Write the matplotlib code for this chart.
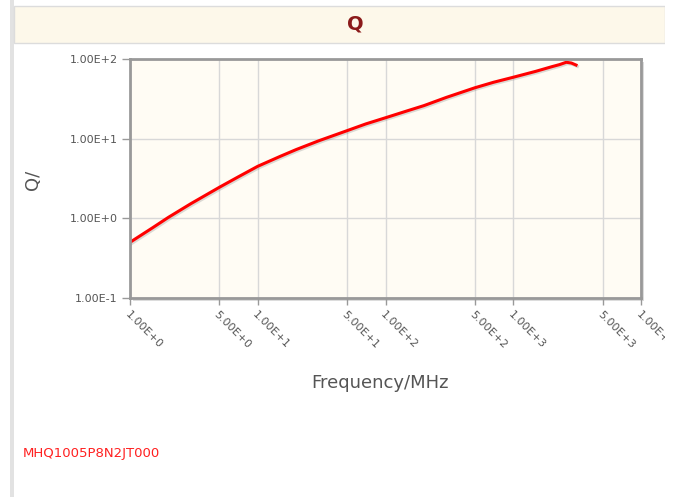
import matplotlib.pyplot as plt
import matplotlib.patheffects as pe
from matplotlib.patches import Rectangle

# data
freq_mhz = [1, 1.5, 2, 3, 5, 7, 10, 15, 20, 30, 50, 70, 100, 150, 200,
            300, 500, 700, 1000, 1500, 2000, 2300, 2600, 2850, 3100]
q_values = [0.50, 0.76, 1.03, 1.53, 2.45, 3.3, 4.5, 6.0, 7.3, 9.4, 12.6,
            15.3, 18.3, 22.5, 26.0, 33.0, 43.5, 51.0, 59.0, 70.0, 80.0,
            85.0, 91.0, 89.0, 84.0]

x_ticks = [1, 5, 10, 50, 100, 500, 1000, 5000, 10000]
x_tick_labels = ["1.00E+0", "5.00E+0", "1.00E+1", "5.00E+1", "1.00E+2",
                 "5.00E+2", "1.00E+3", "5.00E+3", "1.00E+4"]
y_ticks = [0.1, 1, 10, 100]
y_tick_labels = ["1.00E-1", "1.00E+0", "1.00E+1", "1.00E+2"]

part_name = "MHQ1005P8N2JT000"

W, H = 673, 497
fig = plt.figure(figsize=(W / 100, H / 100), dpi=100)
fig.patch.set_facecolor("white")

def fx(px):
    return px / W

def fy(py):
    return 1 - py / H

# left grey bar and header band
fig.patches.append(Rectangle((fx(10), 0), fx(4), 1, transform=fig.transFigure,
                             facecolor="#e2e2e2", edgecolor="none", zorder=-2))
fig.patches.append(Rectangle((fx(14), fy(43)), fx(651), fy(6) - fy(43),
                             transform=fig.transFigure, facecolor="#fdf8ea",
                             edgecolor="#dcdcdc", linewidth=1, zorder=-2))
fig.text(fx(355), fy(24), "Q", color="#8b1a1a", fontsize=14,
         fontweight="bold", ha="center", va="center")

left, right, top, bottom = 130, 641, 59, 298
# drop shadow of plot frame
fig.patches.append(Rectangle((fx(left + 3), fy(bottom + 3)), fx(right - left),
                             fy(top) - fy(bottom), transform=fig.transFigure,
                             facecolor="#dcdcdc", edgecolor="none", zorder=-1))
ax = fig.add_axes([fx(left), fy(bottom), fx(right - left), fy(top) - fy(bottom)])
ax.set_facecolor("#fffcf4")

ax.plot(freq_mhz, q_values, color="#ff0000", linewidth=2.2,
        path_effects=[pe.SimpleLineShadow(offset=(1, -1), shadow_color="#888888", alpha=0.3),
                      pe.Normal()])

ax.set_xscale("log")
ax.set_yscale("log")
ax.set_xlim(1, 10000)
ax.set_ylim(0.1, 100)
ax.minorticks_off()
ax.set_xticks(x_ticks)
ax.set_xticklabels(x_tick_labels, rotation=-45, ha="left", va="top",
                   rotation_mode="anchor", fontsize=8, color="#555555")
ax.set_yticks(y_ticks)
ax.set_yticklabels(y_tick_labels, fontsize=8, color="#555555")
ax.grid(True, color="#d8d8d8", linewidth=1)
ax.tick_params(axis="both", length=5, width=1, color="#999999", pad=3)
ax.tick_params(axis="y", length=6)
for s in ax.spines.values():
    s.set_color("#999999")
    s.set_linewidth(2)

fig.text(fx(380), fy(383), "Frequency/MHz", fontsize=13, color="#555555",
         ha="center", va="center")
fig.text(fx(33), fy(180), "Q/", fontsize=13, color="#555555",
         ha="center", va="center", rotation=90)

fig.text(fx(23), fy(454), part_name, fontsize=9.5, color="#ff2020",
         ha="left", va="center")

# the page cuts off everything right of the panel edge
fig.patches.append(Rectangle((fx(665), 0), fx(8), 1, transform=fig.transFigure,
                             facecolor="white", edgecolor="none", zorder=10))

fig.savefig("out.png", dpi=100)
